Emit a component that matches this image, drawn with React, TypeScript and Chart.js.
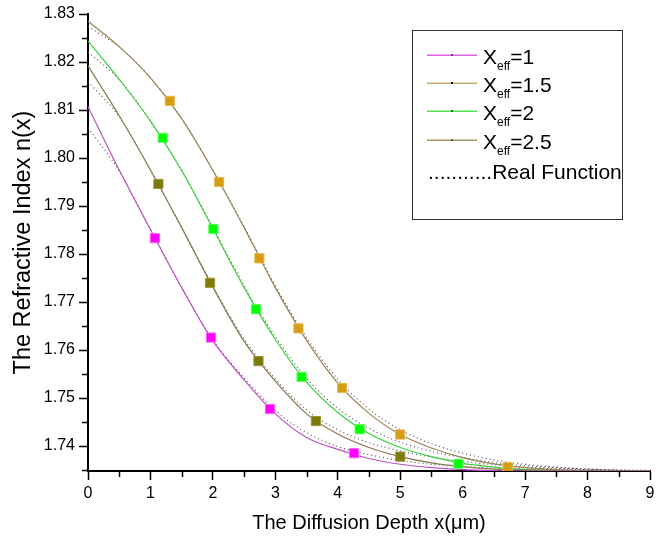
import { useEffect, useRef } from 'react';
import { Chart, registerables } from 'chart.js';

Chart.register(...registerables);

// Diffusion depth samples (μm)
const depth = [0, 0.5, 1, 1.5, 2, 2.5, 3, 3.5, 4, 4.5, 5, 5.5, 6, 6.5, 7, 7.5, 8, 8.5, 9];

// Fitted curves (solid)
const fitX1 = [1.8107, 1.7975, 1.7851, 1.7730, 1.7619, 1.7538, 1.7467, 1.7418, 1.7393, 1.7374, 1.7362, 1.7355, 1.7351, 1.7349, 1.7348, 1.7348, 1.7348, 1.7348, 1.7348];
const fitX15 = [1.8192, 1.8088, 1.7975, 1.7855, 1.7731, 1.7618, 1.7535, 1.7467, 1.7425, 1.7397, 1.7378, 1.7365, 1.7357, 1.7352, 1.7350, 1.7349, 1.7348, 1.7348, 1.7348];
const fitX2 = [1.8244, 1.8164, 1.8077, 1.7974, 1.7853, 1.7730, 1.7622, 1.7533, 1.7470, 1.7426, 1.7397, 1.7378, 1.7364, 1.7356, 1.7351, 1.7349, 1.7348, 1.7348, 1.7348];
const fitX25 = [1.8285, 1.8232, 1.8167, 1.8082, 1.7974, 1.7855, 1.7730, 1.7620, 1.7531, 1.7468, 1.7424, 1.7396, 1.7376, 1.7363, 1.7355, 1.7351, 1.7349, 1.7348, 1.7348];

// Real function (dotted)
const realX1 = [1.8063, 1.7973, 1.7851, 1.7730, 1.7621, 1.7542, 1.7474, 1.7428, 1.7399, 1.7382, 1.7370, 1.7362, 1.7357, 1.7354, 1.7352, 1.7351, 1.7350, 1.7349, 1.7348];
const realX15 = [1.8159, 1.8086, 1.7975, 1.7855, 1.7733, 1.7623, 1.7540, 1.7475, 1.7434, 1.7407, 1.7390, 1.7377, 1.7368, 1.7361, 1.7356, 1.7353, 1.7351, 1.7349, 1.7348];
const realX2 = [1.8221, 1.8163, 1.8077, 1.7974, 1.7855, 1.7734, 1.7628, 1.7541, 1.7479, 1.7437, 1.7408, 1.7389, 1.7376, 1.7366, 1.7359, 1.7355, 1.7352, 1.7350, 1.7349];
const realX25 = [1.8274, 1.8231, 1.8167, 1.8082, 1.7975, 1.7857, 1.7734, 1.7626, 1.7539, 1.7477, 1.7434, 1.7405, 1.7385, 1.7371, 1.7362, 1.7356, 1.7352, 1.7350, 1.7349];

// Square markers
const mkX1x = [1.07, 1.97, 2.915, 4.26];
const mkX1y = [1.7833, 1.7626, 1.7477, 1.7385];
const mkX15x = [1.127, 1.954, 2.73, 3.65, 5.0];
const mkX15y = [1.7946, 1.7740, 1.7577, 1.7452, 1.7378];
const mkX2x = [1.196, 2.007, 2.69, 3.42, 4.35, 5.93];
const mkX2y = [1.8042, 1.7852, 1.7685, 1.7544, 1.7435, 1.7363];
const mkX25x = [1.31, 2.10, 2.744, 3.37, 4.07, 5.0, 6.72];
const mkX25y = [1.8119, 1.7950, 1.7791, 1.7645, 1.7521, 1.7424, 1.7356];

const legendLabels = ['1', '1.5', '2', '2.5'];
const xTitle = 'The Diffusion Depth x(μm)';
const yTitle = 'The Refractive Index n(x)';

const lineColors = ['#c050c8', '#8a7650', '#3cd03c', '#9a8458'];
const legendLineColors = ['#e060e0', '#c8a870', '#50e050', '#a09860'];
const markerFill = ['#ff00ff', '#7d7a05', '#00ff00', '#d69c12'];
const markerBorder = ['#ff60ff', '#9a9640', '#60ff60', '#e8b850'];

const FONT = '"Liberation Sans", Arial, sans-serif';

const pts = (xs: number[], ys: number[]) => xs.map((x, i) => ({ x, y: ys[i] }));

const minorTicks = {
  id: 'minorTicks',
  afterDraw(chart: any) {
    const { ctx, scales } = chart;
    const xs = scales.x;
    const ys = scales.y;
    ctx.save();
    ctx.setLineDash([]);
    ctx.strokeStyle = '#000';
    ctx.lineWidth = 1.5;
    ctx.beginPath();
    for (let v = 0.5; v < 9; v += 1) {
      const px = Math.round(xs.getPixelForValue(v)) + 0.5;
      ctx.moveTo(px, xs.top);
      ctx.lineTo(px, xs.top + 6);
    }
    for (let k = 0; k < 10; k++) {
      const v = 1.735 + k * 0.01;
      const py = Math.round(ys.getPixelForValue(v)) + 0.5;
      ctx.moveTo(ys.right - 6, py);
      ctx.lineTo(ys.right, py);
    }
    ctx.stroke();
    ctx.restore();
  },
};

const customLegend = {
  id: 'customLegend',
  afterDraw(chart: any) {
    const ctx = chart.ctx;
    ctx.save();
    ctx.setLineDash([]);
    ctx.globalAlpha = 1;
    ctx.fillStyle = '#fff';
    ctx.fillRect(412, 30, 210, 189);
    ctx.strokeStyle = '#333';
    ctx.lineWidth = 1;
    ctx.strokeRect(412.5, 30.5, 210, 189);
    const baselines = [64, 92.2, 120.4, 148.6];
    legendLabels.forEach((lab, i) => {
      const b = baselines[i];
      const ly = Math.round(b - 9);
      ctx.fillStyle = legendLineColors[i];
      ctx.fillRect(427, ly - 0.5, 50, 1.5);
      ctx.fillStyle = i === 1 ? '#000' : '#555';
      ctx.fillRect(451, ly - 1, 2, 2);
      ctx.fillStyle = '#000';
      ctx.textBaseline = 'alphabetic';
      ctx.textAlign = 'left';
      ctx.font = `21px ${FONT}`;
      ctx.fillText('X', 483, b);
      const wX = ctx.measureText('X').width;
      ctx.font = `12px ${FONT}`;
      ctx.fillText('eff', 483 + wX, b + 6);
      const wE = ctx.measureText('eff').width;
      ctx.font = `21px ${FONT}`;
      ctx.fillText('=' + lab, 483 + wX + wE, b);
    });
    ctx.font = `21px ${FONT}`;
    ctx.fillStyle = '#000';
    ctx.fillText('...........Real Function', 428, 179);
    ctx.restore();
  },
};

export default function App() {
  const ref = useRef<HTMLCanvasElement>(null);
  useEffect(() => {
    if (!ref.current) return;
    const fits = [fitX1, fitX15, fitX2, fitX25];
    const reals = [realX1, realX15, realX2, realX25];
    const mks = [
      pts(mkX1x, mkX1y),
      pts(mkX15x, mkX15y),
      pts(mkX2x, mkX2y),
      pts(mkX25x, mkX25y),
    ];
    const datasets: any[] = [];
    mks.forEach((d, i) => {
      datasets.push({
        label: 'markers ' + legendLabels[i],
        data: d,
        showLine: false,
        pointStyle: 'rect',
        pointRadius: 6.5,
        pointBackgroundColor: markerFill[i],
        pointBorderColor: markerBorder[i],
        pointBorderWidth: 1,
        order: 0,
      });
    });
    fits.forEach((f, i) => {
      datasets.push({
        label: 'Xeff=' + legendLabels[i],
        data: pts(depth, f),
        borderColor: lineColors[i],
        borderWidth: 1.2,
        pointRadius: 0,
        cubicInterpolationMode: 'monotone',
        fill: false,
        order: 1,
      });
    });
    reals.forEach((r, i) => {
      datasets.push({
        label: 'Real Function ' + legendLabels[i],
        data: pts(depth, r),
        borderColor: '#555',
        borderWidth: 1.2,
        borderDash: [1, 3],
        pointRadius: 0,
        cubicInterpolationMode: 'monotone',
        fill: false,
        order: 2,
      });
    });

    const chart = new Chart(ref.current, {
      type: 'line',
      data: { datasets },
      options: {
        animation: false,
        responsive: false,
        devicePixelRatio: 1,
        layout: { padding: { left: 0, right: 14, top: 14, bottom: 0 } },
        plugins: { legend: { display: false }, tooltip: { enabled: false } },
        scales: {
          x: {
            type: 'linear',
            min: 0,
            max: 9,
            ticks: { stepSize: 1, color: '#000', font: { size: 16, family: FONT }, padding: 4, maxRotation: 0 },
            grid: { drawOnChartArea: false, drawTicks: true, tickLength: 9, tickColor: '#000', tickWidth: 1.5 },
            border: { color: '#000', width: 2 },
            title: { display: true, text: xTitle, color: '#000', font: { size: 20, family: FONT }, padding: { top: 0, bottom: 6 } },
            afterFit: (s: any) => { s.height = 70; },
          },
          y: {
            type: 'linear',
            min: 1.7348,
            max: 1.83,
            ticks: {
              stepSize: 0.01,
              includeBounds: false,
              color: '#000',
              font: { size: 16, family: FONT },
              padding: 4,
              callback: (v: any) => Number(v).toFixed(2),
            },
            grid: { drawOnChartArea: false, drawTicks: true, tickLength: 9, tickColor: '#000', tickWidth: 1.5 },
            border: { color: '#000', width: 2 },
            title: { display: true, text: yTitle, color: '#000', font: { size: 23.5, family: FONT }, padding: { top: 9, bottom: 0 } },
            afterFit: (s: any) => { s.width = 88; },
          },
        },
      },
      plugins: [minorTicks, customLegend],
    } as any);
    return () => chart.destroy();
  }, []);
  return (
    <div style={{ position: 'fixed', left: 0, top: 0, width: 664, height: 541, background: '#fff' }}>
      <canvas ref={ref} width={664} height={541} style={{ display: 'block' }} />
    </div>
  );
}
